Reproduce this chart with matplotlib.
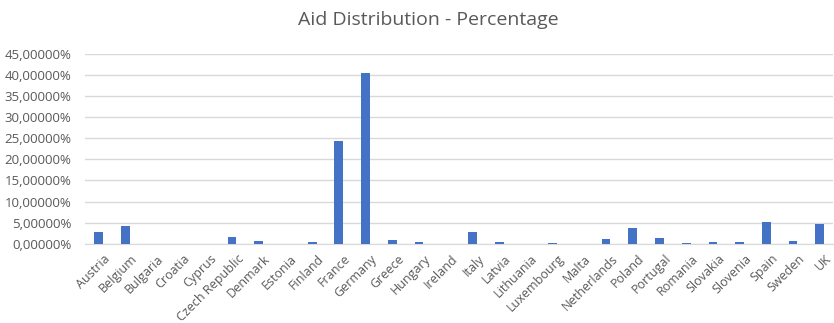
import matplotlib.pyplot as plt
from matplotlib.ticker import FuncFormatter
from matplotlib.transforms import ScaledTranslation

countries = ['Austria', 'Belgium', 'Bulgaria', 'Croatia', 'Cyprus', 'Czech Republic',
             'Denmark', 'Estonia', 'Finland', 'France', 'Germany', 'Greece', 'Hungary',
             'Ireland', 'Italy', 'Latvia', 'Lithuania', 'Luxembourg', 'Malta',
             'Netherlands', 'Poland', 'Portugal', 'Romania', 'Slovakia', 'Slovenia',
             'Spain', 'Sweden', 'UK']
share = [2.7, 4.25, 0.0, 0.0, 0.0, 1.65,
         0.7, 0.0, 0.35, 24.4, 40.5, 0.85, 0.5,
         0.0, 2.7, 0.45, 0.0, 0.25, 0.0,
         1.2, 3.85, 1.3, 0.3, 0.35, 0.35,
         5.2, 0.75, 4.7]

plt.rcParams['font.family'] = ['Open Sans', 'DejaVu Sans']
grey = '#595959'

fig = plt.figure(figsize=(8.34, 3.23), dpi=100)
ax = fig.add_axes([0.102, 0.245, 0.897, 0.589])

x = range(len(countries))
ax.bar(x, share, width=0.33, color='#4472C4', zorder=3)

ax.set_ylim(0, 45)
ax.set_yticks(range(0, 46, 5))
ax.yaxis.set_major_formatter(FuncFormatter(lambda v, p: f'{v:.5f}%'.replace('.', ',')))
ax.set_xlim(-0.5, len(countries) - 0.5)
ax.set_xticks(list(x))
ax.set_xticklabels(countries, rotation=45, ha='right', rotation_mode='anchor')

ax.grid(axis='y', color='#D9D9D9', linewidth=1, zorder=0)
for s in ['top', 'right', 'left']:
    ax.spines[s].set_visible(False)
ax.spines['bottom'].set_color('#D9D9D9')
ax.tick_params(axis='both', length=0, colors=grey)
ax.tick_params(axis='y', labelsize=9.5, pad=10)
ax.tick_params(axis='x', labelsize=9, pad=6)
shift = ScaledTranslation(5 / 100, 0, fig.dpi_scale_trans)
for lbl in ax.get_xticklabels():
    lbl.set_transform(lbl.get_transform() + shift)

fig.suptitle('Aid Distribution - Percentage', x=0.513, y=0.965, fontsize=14, color=grey)

fig.savefig('out.png', dpi=100)
